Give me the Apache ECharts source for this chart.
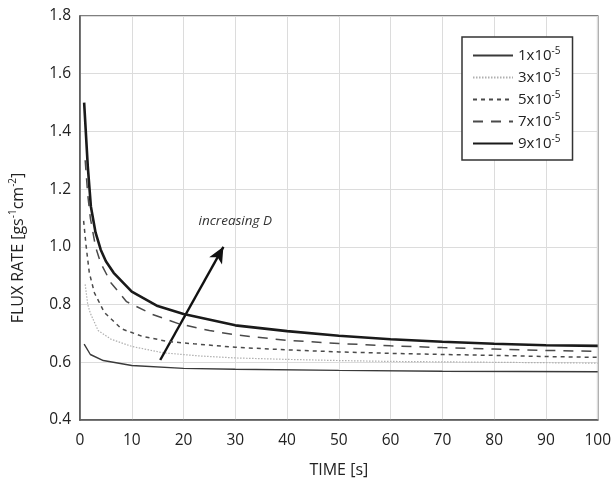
<!DOCTYPE html>
<html>
<head>
<meta charset="utf-8">
<script src="https://cdn.jsdelivr.net/npm/echarts@6/dist/echarts.min.js"></script>
<style>
  html, body { margin: 0; padding: 0; background: #fff; }
  #chart { width: 614px; height: 483px; }
</style>
</head>
<body>
<div id="chart"></div>
<script>
// Flux rate vs. time for five diffusion coefficients D
const seriesNames = ['1x10-5', '3x10-5', '5x10-5', '7x10-5', '9x10-5'];

const timeD1 = [0.8, 2, 4.5, 10, 20, 30, 50, 70, 100];
const fluxD1 = [0.663, 0.627, 0.606, 0.589, 0.579, 0.576, 0.572, 0.569, 0.567];

const timeD3 = [1, 1.5, 2, 3.5, 6, 10, 16, 23, 30, 40, 50, 60, 80, 100];
const fluxD3 = [0.87, 0.80, 0.77, 0.71, 0.68, 0.655, 0.633, 0.622, 0.615, 0.61, 0.606, 0.603, 0.60, 0.597];

const timeD5 = [0.7, 1.2, 1.8, 2.8, 4.7, 8, 12, 17, 22, 30, 40, 50, 60, 70, 80, 90, 100];
const fluxD5 = [1.09, 1.0, 0.91, 0.84, 0.773, 0.716, 0.69, 0.672, 0.664, 0.652, 0.643, 0.636, 0.631, 0.627, 0.624, 0.62, 0.617];

const timeD7 = [1, 1.5, 2, 3, 4, 6, 9, 14, 19, 25, 30, 40, 50, 60, 70, 80, 90, 100];
const fluxD7 = [1.30, 1.18, 1.10, 1.0, 0.944, 0.875, 0.81, 0.766, 0.734, 0.71, 0.695, 0.676, 0.665, 0.657, 0.651, 0.646, 0.641, 0.638];

const timeD9 = [0.8, 1.5, 2.1, 3, 4, 5, 6.5, 10, 15, 20, 30, 40, 50, 60, 70, 80, 90, 100];
const fluxD9 = [1.50, 1.28, 1.14, 1.05, 0.99, 0.95, 0.91, 0.845, 0.795, 0.767, 0.728, 0.708, 0.692, 0.68, 0.671, 0.664, 0.659, 0.657];

// "increasing D" arrow: tail and head in data units, plus label anchor
const arrowFrom = [15.5, 0.608];
const arrowTo = [27.7, 1.0];
const noteAt = [30, 1.089];
const noteText = 'increasing D';

const xTicks = { min: 0, max: 100, step: 10 };
const yTicks = { min: 0.4, max: 1.8, step: 0.2 };

const FONT = '"Open Sans", "Noto Sans", sans-serif';

function zip(t, v) { return t.map((x, i) => [x, v[i]]); }

const styles = [
  { color: '#3a3a3a', width: 1.4, type: 'solid' },
  { color: '#b0b0b0', width: 1.2, type: [1.5, 1.5] },
  { color: '#4a4a4a', width: 1.5, type: [4, 4] },
  { color: '#4a4a4a', width: 1.5, type: [10, 8] },
  { color: '#1a1a1a', width: 2.6, type: 'solid' }
];
const dataSets = [zip(timeD1, fluxD1), zip(timeD3, fluxD3), zip(timeD5, fluxD5), zip(timeD7, fluxD7), zip(timeD9, fluxD9)];

const lineSeries = seriesNames.map((name, i) => ({
  name: name,
  type: 'line',
  data: dataSets[i],
  symbol: 'none',
  showSymbol: false,
  smooth: false,
  z: 3 + i,
  lineStyle: { color: styles[i].color, width: styles[i].width, type: styles[i].type },
  itemStyle: { color: styles[i].color }
}));

const annotation = {
  name: 'annotation',
  type: 'line',
  data: [],
  silent: true,
  z: 10,
  markLine: {
    silent: true,
    symbol: ['none', 'arrow'],
    symbolSize: [11, 16],
    label: { show: false },
    lineStyle: { color: '#111', width: 2.4, type: 'solid' },
    data: [[{ coord: arrowFrom }, { coord: arrowTo }]]
  },
  markPoint: {
    silent: true,
    symbol: 'circle',
    symbolSize: 0,
    label: {
      show: true,
      position: 'inside',
      formatter: noteText,
      fontFamily: FONT,
      fontStyle: 'italic',
      fontSize: 13.5,
      color: '#333'
    },
    data: [{ coord: noteAt }]
  }
};

const chart = echarts.init(document.getElementById('chart'), null, { renderer: 'canvas' });
chart.setOption({
  animation: false,
  backgroundColor: '#fff',
  textStyle: { fontFamily: FONT },
  grid: {
    left: 79, right: 14, top: 16, bottom: 57,
    show: true, borderColor: '#555', borderWidth: 1.5, backgroundColor: 'transparent'
  },
  legend: {
    data: seriesNames,
    orient: 'vertical',
    left: 462,
    top: 37,
    padding: [9, 12, 9, 10],
    itemWidth: 40,
    itemHeight: 14,
    itemGap: 5,
    borderColor: '#333',
    borderWidth: 1.5,
    backgroundColor: '#fff',
    selectedMode: false,
    itemStyle: { opacity: 0, borderWidth: 0 },
    formatter: function (name) { return name.replace('-5', '{s|-5}'); },
    textStyle: {
      fontFamily: FONT, fontSize: 15, color: '#222', padding: [0, 0, 0, 0],
      rich: { s: { fontSize: 10, fontFamily: FONT, color: '#222', verticalAlign: 'bottom', padding: [0, 0, 9, 0] } }
    }
  },
  xAxis: {
    type: 'value',
    min: xTicks.min, max: xTicks.max, interval: xTicks.step,
    name: 'TIME [s]',
    nameLocation: 'middle',
    nameGap: 42,
    nameTextStyle: { fontFamily: FONT, fontSize: 16, color: '#222' },
    axisLine: { show: true, lineStyle: { color: '#555', width: 1.5 } },
    axisTick: { show: false },
    axisLabel: { fontFamily: FONT, fontSize: 15.5, color: '#222', margin: 13 },
    splitLine: { show: true, lineStyle: { color: '#dcdcdc', width: 1 } }
  },
  yAxis: {
    type: 'value',
    min: yTicks.min, max: yTicks.max, interval: yTicks.step,
    name: 'FLUX RATE [gs{s|-1}cm{s|-2}]',
    nameLocation: 'middle',
    nameGap: 52,
    nameRotate: 90,
    nameTextStyle: {
      fontFamily: FONT, fontSize: 16, color: '#222', padding: [0, 60, 0, 0],
      rich: { s: { fontSize: 10, fontFamily: FONT, color: '#222', verticalAlign: 'bottom', padding: [0, 0, 10, 0] } }
    },
    axisLine: { show: true, lineStyle: { color: '#555', width: 1.5 } },
    axisTick: { show: false },
    axisLabel: {
      fontFamily: FONT, fontSize: 15.5, color: '#222', margin: 9,
      formatter: function (v) { return v.toFixed(1); }
    },
    splitLine: { show: true, lineStyle: { color: '#dcdcdc', width: 1 } }
  },
  series: lineSeries.concat([annotation])
});
</script>
</body>
</html>
